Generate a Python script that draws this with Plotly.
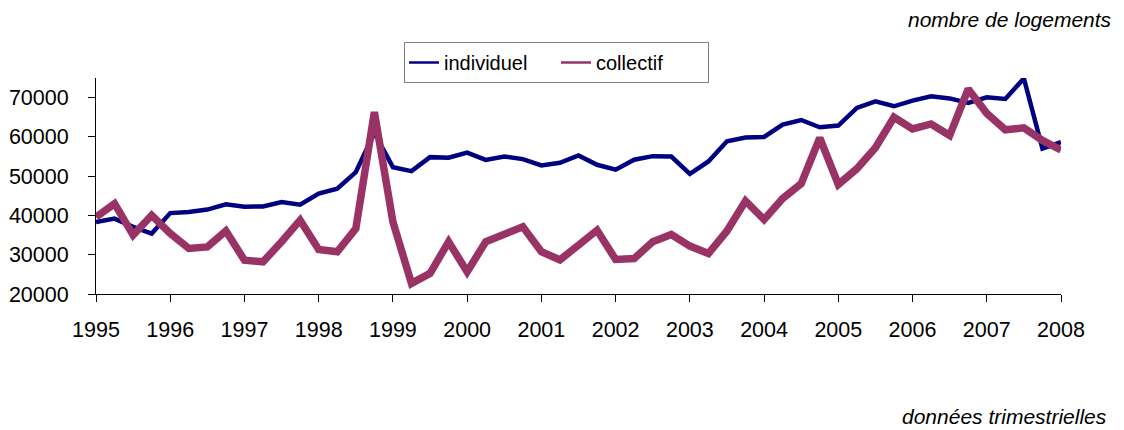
import plotly.graph_objects as go

quarters = [1995 + 0.25 * i for i in range(53)]

individuel = [38350, 39200, 37100, 35400, 40600, 40900, 41500, 42850, 42200, 42300,
              43400, 42750, 45550, 46800, 51050, 61000, 52300, 51300, 54850, 54700,
              56000, 54150, 55000, 54350, 52750, 53400, 55300, 52900, 51650, 54200,
              55100, 55000, 50600, 53750, 58900, 59850, 60000, 63150, 64300, 62450,
              62900, 67400, 69050, 67800, 69250, 70350, 69800, 68650, 70100, 69650,
              74900, 57000, 58650]

collectif = [39600, 43000, 35000, 40050, 35400, 31600, 32000, 36050, 28600, 28200,
             33300, 38800, 31350, 30750, 36650, 66300, 38350, 22700, 25250, 33300,
             25650, 33300, 35200, 37100, 30750, 28700, 32450, 36250, 28800, 29050,
             33300, 35150, 32200, 30300, 36050, 43700, 38950, 44300, 48100, 59750,
             47900, 51900, 57250, 65000, 62050, 63300, 60350, 72200, 66000, 61800,
             62300, 59100, 56700]

series_names = ["individuel", "collectif"]
series_colors = ["#000080", "#993366"]

year_ticks = list(range(1995, 2009))
y_ticks = [20000, 30000, 40000, 50000, 60000, 70000]

FONT = "Liberation Sans, Arial, sans-serif"

fig = go.Figure()
for name, vals, col, w in zip(series_names, [individuel, collectif], series_colors, [4.5, 7.5]):
    fig.add_trace(go.Scatter(x=quarters, y=vals, mode="lines", name=name,
                             legendgroup=name, showlegend=False,
                             line=dict(color=col, width=w)))
# thin legend entries (the reference legend uses thin sample lines)
for name, col in zip(series_names, series_colors):
    fig.add_trace(go.Scatter(x=[None], y=[None], mode="lines", name=name,
                             legendgroup=name, showlegend=True,
                             line=dict(color=col, width=2.5)))

L, R, T, B = 96, 63, 78, 136
W, H = 1124, 430
pw, ph = W - L - R, H - T - B

def px(xp):
    return (xp - L) / pw

def py(yp):
    return (H - B - yp) / ph

fig.update_layout(
    width=W, height=H,
    margin=dict(l=L, r=R, t=T, b=B, pad=0, autoexpand=False),
    paper_bgcolor="white", plot_bgcolor="white",
    font=dict(family=FONT, size=21, color="black"),
    showlegend=True,
    legend=dict(orientation="h", x=px(404), y=py(42), xanchor="left", yanchor="top",
                bordercolor="#808080", borderwidth=1, bgcolor="white",
                font=dict(size=20, family=FONT), itemwidth=30,
                entrywidth=107, tracegroupgap=0),
    xaxis=dict(range=[1995, 2008], tickmode="array", tickvals=year_ticks,
               ticktext=[str(y) for y in year_ticks], automargin=False,
               showgrid=False, zeroline=False, showline=True, linecolor="black",
               linewidth=1, ticks="outside", ticklen=7, tickcolor="black",
               ticklabelstandoff=9, tickfont=dict(size=21.5)),
    yaxis=dict(range=[20000, 75000], tickmode="array", tickvals=y_ticks,
               ticktext=[str(v) for v in y_ticks], automargin=False,
               showgrid=False, zeroline=False, showline=True, linecolor="black",
               linewidth=1, ticks="outside", ticklen=7, tickcolor="black",
               ticklabelstandoff=15, tickfont=dict(size=21.5)),
    annotations=[
        dict(text="<i>nombre de logements</i>", xref="paper", yref="paper",
             x=px(1114), y=py(19), xanchor="right", yanchor="middle",
             showarrow=False, font=dict(size=21, family=FONT)),
        dict(text="<i>données trimestrielles</i>", xref="paper", yref="paper",
             x=px(1109), y=py(416), xanchor="right", yanchor="middle",
             showarrow=False, font=dict(size=21, family=FONT)),
    ],
)

fig.write_html("out.html")
